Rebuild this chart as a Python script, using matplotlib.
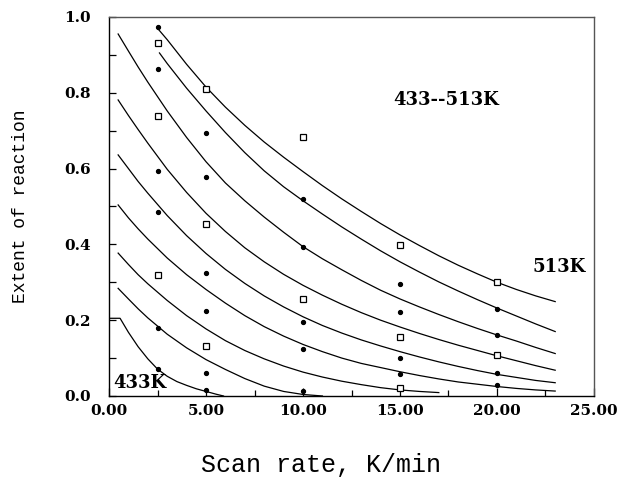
import numpy as np
import matplotlib
matplotlib.use("Agg")
import matplotlib.pyplot as plt
from matplotlib.ticker import MultipleLocator, FormatStrFormatter

# fitted curves, 513K (top) down to 433K (bottom)
x_513 = [2.5, 3, 4, 5, 6, 7, 8, 9, 10, 11, 12, 13, 14, 15, 16, 17, 18, 19, 20, 21, 22, 23]
y_513 = [0.97, 0.94, 0.875, 0.815, 0.762, 0.714, 0.67, 0.63, 0.592, 0.555, 0.52, 0.487,
         0.455, 0.425, 0.397, 0.37, 0.345, 0.322, 0.30, 0.281, 0.264, 0.249]
x_503 = [2.6, 3, 4, 5, 6, 7, 8, 9, 10, 11, 12, 13, 14, 15, 16, 17, 18, 19, 20, 21, 22, 23]
y_503 = [0.905, 0.877, 0.812, 0.752, 0.695, 0.642, 0.594, 0.552, 0.515, 0.48, 0.446, 0.414,
         0.383, 0.354, 0.327, 0.301, 0.277, 0.254, 0.232, 0.211, 0.19, 0.17]
x_mid = [0.47, 1, 1.5, 2, 3, 4, 5, 6, 7, 8, 9, 10, 11, 12, 13, 14, 15, 16, 17, 18, 19, 20, 21, 22, 23]
y_493 = [0.955, 0.91, 0.868, 0.828, 0.752, 0.682, 0.618, 0.562, 0.515, 0.472, 0.432, 0.394, 0.362,
         0.333, 0.305, 0.279, 0.256, 0.235, 0.215, 0.196, 0.178, 0.161, 0.145, 0.128, 0.112]
y_483 = [0.781, 0.74, 0.703, 0.667, 0.598, 0.537, 0.482, 0.434, 0.391, 0.354, 0.321, 0.292, 0.266,
         0.242, 0.22, 0.2, 0.182, 0.165, 0.149, 0.134, 0.12, 0.106, 0.093, 0.08, 0.068]
y_473 = [0.636, 0.6, 0.566, 0.535, 0.476, 0.423, 0.376, 0.334, 0.297, 0.264, 0.235, 0.209, 0.186,
         0.166, 0.148, 0.132, 0.117, 0.103, 0.09, 0.078, 0.067, 0.057, 0.049, 0.041, 0.035]
y_463 = [0.504, 0.47, 0.441, 0.414, 0.364, 0.32, 0.281, 0.245, 0.212, 0.183, 0.158, 0.136, 0.117,
         0.1, 0.086, 0.075, 0.064, 0.054, 0.045, 0.037, 0.031, 0.025, 0.02, 0.016, 0.013]
x_453 = [0.47, 1, 1.5, 2, 3, 4, 5, 6, 7, 8, 9, 10, 11, 12, 13, 14, 15, 16, 17]
y_453 = [0.377, 0.347, 0.32, 0.296, 0.252, 0.212, 0.177, 0.146, 0.12, 0.098, 0.079, 0.063,
         0.05, 0.039, 0.03, 0.022, 0.016, 0.012, 0.009]
x_443 = [0.47, 1, 1.5, 2, 3, 4, 5, 6, 7, 8, 9, 10, 11]
y_443 = [0.284, 0.256, 0.23, 0.206, 0.163, 0.127, 0.096, 0.07, 0.046, 0.026, 0.012, 0.004, 0.0]
x_433 = [0, 0.57, 1, 1.5, 2, 2.5, 3, 3.5, 4, 4.5, 5, 5.5, 5.9]
y_433 = [0.205, 0.205, 0.168, 0.13, 0.098, 0.071, 0.052, 0.038, 0.028, 0.019, 0.012, 0.005, 0.0]

# measured points
sq_x = [2.5, 2.5, 2.5, 5, 5, 5, 10, 10, 15, 15, 15, 20, 20]
sq_y = [0.931, 0.739, 0.319, 0.81, 0.453, 0.132, 0.682, 0.257, 0.398, 0.155, 0.022, 0.30, 0.108]
dot_x = [2.5] * 6 + [5] * 6 + [10] * 5 + [15] * 4 + [20] * 4
dot_y = [0.974, 0.863, 0.594, 0.485, 0.179, 0.071,
         0.693, 0.577, 0.325, 0.225, 0.060, 0.016,
         0.519, 0.394, 0.195, 0.124, 0.013,
         0.295, 0.221, 0.100, 0.057,
         0.23, 0.16, 0.06, 0.029]

fig = plt.figure(figsize=(6.17, 4.91), dpi=100)
ax = fig.add_axes([0.1767, 0.1935, 0.786, 0.772])

curves = [(x_513, y_513), (x_503, y_503), (x_mid, y_493), (x_mid, y_483), (x_mid, y_473),
          (x_mid, y_463), (x_453, y_453), (x_443, y_443), (x_433, y_433)]
for cx, cy in curves:
    ax.plot(cx, cy, color='black', linewidth=0.9)

ax.plot(sq_x, sq_y, linestyle='none', marker='s', markersize=4.5, markerfacecolor='white',
        markeredgecolor='black', markeredgewidth=0.9)
ax.plot(dot_x, dot_y, linestyle='none', marker='o', markersize=2.8, color='black')

ax.set_xlim(0, 25)
ax.set_ylim(0, 1.0)
ax.xaxis.set_major_locator(MultipleLocator(5))
ax.xaxis.set_minor_locator(MultipleLocator(2.5))
ax.yaxis.set_major_locator(MultipleLocator(0.2))
ax.yaxis.set_minor_locator(MultipleLocator(0.1))
ax.xaxis.set_major_formatter(FormatStrFormatter('%.2f'))
ax.yaxis.set_major_formatter(FormatStrFormatter('%.1f'))
ax.tick_params(which='both', direction='in', top=False, right=False, width=0.9)
ax.tick_params(axis='x', which='major', length=6, pad=6)
ax.tick_params(axis='x', which='minor', length=4)
ax.tick_params(axis='y', which='both', length=5, pad=13)
for lab in ax.get_xticklabels() + ax.get_yticklabels():
    lab.set_fontfamily('DejaVu Serif')
    lab.set_fontweight('bold')
    lab.set_fontsize(11)
for sp in ax.spines.values():
    sp.set_linewidth(1.0)
ax.spines['top'].set_color('#555555')
ax.spines['right'].set_color('#555555')

ax.text(17.4, 0.78, '433--513K', ha='center', va='center', fontsize=13,
        family='DejaVu Serif', fontweight='bold')
ax.text(23.2, 0.34, '513K', ha='center', va='center', fontsize=13,
        family='DejaVu Serif', fontweight='bold')
ax.text(0.2, 0.035, '433K', ha='left', va='center', fontsize=13,
        family='DejaVu Serif', fontweight='bold')

fig.text(321 / 617, 1 - 465 / 491, 'Scan rate, K/min', ha='center', va='center',
         fontsize=18, family='Liberation Mono')
fig.text(21 / 617, 1 - 206 / 491, 'Extent of reaction', rotation=90, ha='center', va='center',
         fontsize=13, family='Liberation Mono')

fig.savefig('out.png', dpi=100)
